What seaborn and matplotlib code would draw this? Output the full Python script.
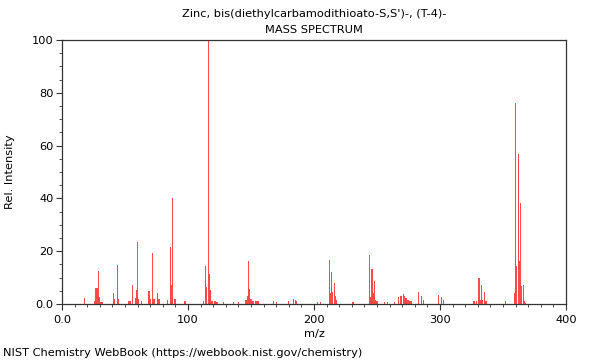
import numpy as np
import pandas as pd
import matplotlib
matplotlib.use("Agg")
import matplotlib.pyplot as plt
from matplotlib.ticker import MultipleLocator, FuncFormatter
import seaborn as sns

title_line1 = "Zinc, bis(diethylcarbamodithioato-S,S')-, (T-4)-"
title_line2 = "MASS SPECTRUM"
x_label = "m/z"
y_label = "Rel. Intensity"
footer = "NIST Chemistry WebBook (https://webbook.nist.gov/chemistry)"

mz = [18, 26, 27, 28, 29, 30, 31, 32, 41, 42, 44, 45, 53, 54, 56, 58, 59, 60, 61,
      63, 69, 70, 72, 73, 76, 77, 84, 86, 87, 88, 89, 90, 97, 98,
      112, 114, 115, 116, 117, 118, 119, 121, 122, 123, 128, 136, 140,
      146, 147, 148, 149, 150, 151, 152, 154, 155, 156, 168, 170, 180, 184, 185, 186,
      203, 205, 212, 213, 214, 215, 216, 217, 218, 231,
      244, 245, 246, 247, 248, 249, 250, 256, 258, 264,
      267, 269, 271, 272, 273, 274, 275, 276, 277, 283, 285, 287,
      299, 301, 303, 327, 329, 331, 332, 333, 334, 335, 336, 337, 352,
      359, 360, 361, 362, 363, 364, 365, 366, 367, 368]
intensity = [2.2, 1.0, 6.2, 6.2, 12.6, 2.5, 0.8, 0.8, 4.3, 2.0, 14.8, 2.0, 1.0, 1.0, 7.2, 2.2, 5.3, 23.5, 2.0,
             1.0, 4.9, 2.0, 19.2, 2.0, 4.0, 2.0, 1.5, 21.7, 7.2, 40.0, 2.0, 2.0, 1.0, 1.0,
             1.0, 14.4, 6.6, 100.0, 11.4, 5.3, 1.0, 1.0, 1.0, 0.8, 0.8, 0.6, 0.6,
             1.5, 3.0, 16.4, 5.7, 2.0, 1.2, 1.2, 1.2, 1.0, 1.0, 1.2, 0.8, 1.0, 2.0, 1.5, 1.0,
             0.8, 0.8, 16.7, 4.1, 12.0, 4.6, 7.8, 3.0, 1.5, 0.8,
             18.6, 2.5, 13.1, 4.0, 8.7, 1.5, 1.0, 0.8, 0.8, 0.8,
             2.5, 3.0, 3.8, 3.2, 2.3, 1.5, 1.5, 1.2, 1.0, 4.4, 3.0, 1.5,
             3.4, 2.5, 1.5, 1.0, 1.0, 9.7, 1.5, 7.2, 1.5, 4.7, 1.0, 1.0, 1.0,
             4.3, 76.0, 14.4, 56.8, 16.3, 38.1, 6.8, 7.2, 1.0, 0.5]

df = pd.DataFrame({"mz": mz, "intensity": intensity})

sns.set_theme(style="ticks")
plt.rcParams["font.family"] = ["DejaVu Sans"]
plt.rcParams["text.color"] = "black"
plt.rcParams["axes.labelcolor"] = "black"
plt.rcParams["xtick.color"] = "black"
plt.rcParams["ytick.color"] = "black"

fig = plt.figure(figsize=(6, 3.6), dpi=100)
ax = fig.add_axes([62 / 600, 1 - 304 / 360, 504 / 600, 264 / 360])

sns.histplot(data=df, x="mz", weights="intensity", discrete=True, shrink=0.9,
             color="#ff1a1a", alpha=0.8, linewidth=0, element="bars", ax=ax)

ax.set_xlim(0, 400)
ax.set_ylim(0, 100)
ax.xaxis.set_major_locator(MultipleLocator(100))
ax.xaxis.set_minor_locator(MultipleLocator(10))
ax.yaxis.set_major_locator(MultipleLocator(20))
ax.yaxis.set_minor_locator(MultipleLocator(5))
fmt = FuncFormatter(lambda v, p: "0.0" if v == 0 else f"{v:g}")
ax.xaxis.set_major_formatter(fmt)
ax.yaxis.set_major_formatter(fmt)

for s in ax.spines.values():
    s.set_visible(True)
    s.set_color("#333333")
    s.set_linewidth(0.9)
ax.tick_params(which="major", length=4, width=0.8, color="#333333", labelcolor="black",
               labelsize=8.2, pad=2)
ax.tick_params(axis="x", which="major", pad=4)
ax.tick_params(which="minor", length=2, width=0.6, color="#333333")

ax.set_xlabel(x_label, fontsize=8.2, labelpad=3, color="black")
ax.set_ylabel(y_label, fontsize=8.2, labelpad=12, color="black")

fig.text(314 / 600, 1 - 14 / 360, title_line1, ha="center", va="center", fontsize=8.2, color="black")
fig.text(314 / 600, 1 - 30 / 360, title_line2, ha="center", va="center", fontsize=8.2, color="black")
fig.text(3 / 600, 1 - 353 / 360, footer, ha="left", va="center", fontsize=8.2, color="black")

fig.savefig("out.png", dpi=100)
